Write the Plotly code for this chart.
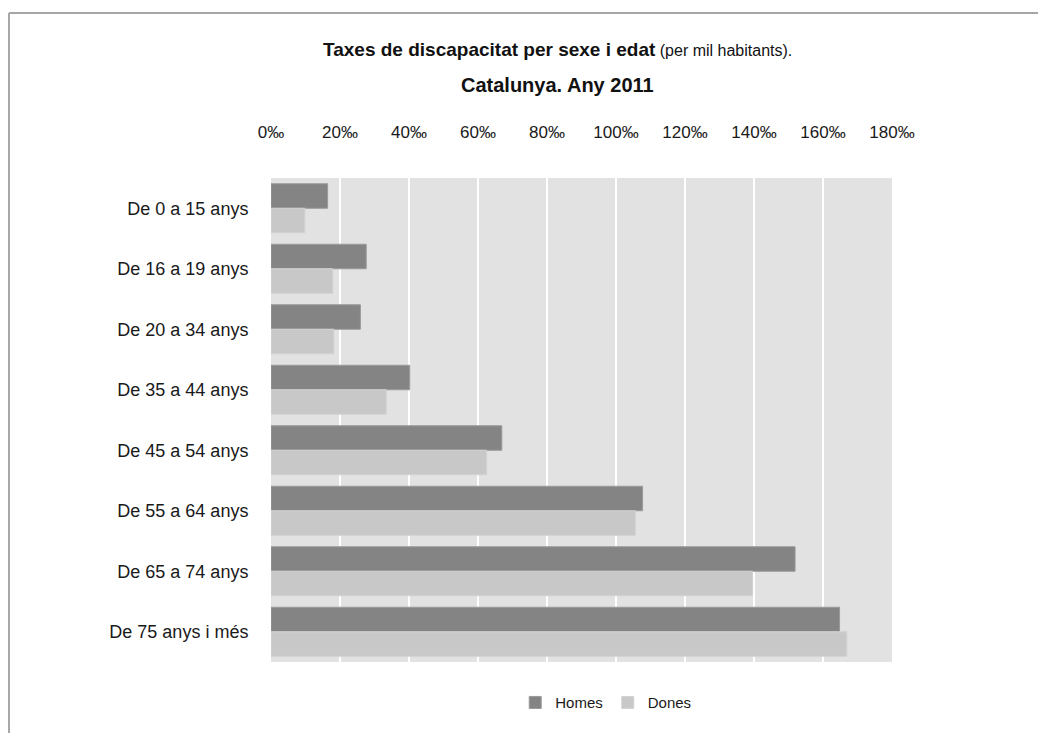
import plotly.graph_objects as go

# Data (rates per thousand inhabitants)
edats = [
    "De 0 a 15 anys",
    "De 16 a 19 anys",
    "De 20 a 34 anys",
    "De 35 a 44 anys",
    "De 45 a 54 anys",
    "De 55 a 64 anys",
    "De 65 a 74 anys",
    "De 75 anys i més",
]
homes = [16.4, 27.6, 25.9, 40.2, 66.9, 107.7, 151.9, 164.8]
dones = [9.8, 17.9, 18.2, 33.4, 62.5, 105.6, 139.6, 166.9]
x_ticks = [0, 20, 40, 60, 80, 100, 120, 140, 160, 180]
x_ticktext = [f"{v}‰" for v in x_ticks]

FONT = "Liberation Sans Narrow, Liberation Sans, Arial, sans-serif"

fig = go.Figure()

fig.add_trace(
    go.Bar(
        y=edats,
        x=homes,
        orientation="h",
        name="Homes",
        marker=dict(color="#848484", line=dict(color="#9a9a9a", width=1)),
    )
)
fig.add_trace(
    go.Bar(
        y=edats,
        x=dones,
        orientation="h",
        name="Dones",
        marker=dict(color="#c8c8c8", line=dict(color="#d2d2d2", width=1)),
    )
)

# Outer frame (top and left edges only, like the cropped original)
frame = dict(type="line", xref="paper", yref="paper",
             line=dict(color="#a6a6a6", width=2), layer="above")
shapes = [
    dict(frame, x0=-0.422, x1=1.3, y0=1.341, y1=1.341),
    dict(frame, x0=-0.422, x1=-0.422, y0=1.341, y1=-0.2),
]

# Two-line title, placed as annotations so the line spacing matches
annotations = [
    dict(
        text="<b>Taxes de discapacitat per sexe i edat</b>"
             "<span style='font-size:16px'> (per mil habitants).</span>",
        xref="paper", yref="paper", x=0.461, y=1.2645,
        xanchor="center", yanchor="middle", showarrow=False,
        font=dict(size=19, color="#111"),
    ),
    dict(
        text="<b>Catalunya. Any 2011</b>",
        xref="paper", yref="paper", x=0.461, y=1.192,
        xanchor="center", yanchor="middle", showarrow=False,
        font=dict(size=20, color="#111"),
    ),
]

fig.update_layout(
    width=1046,
    height=733,
    margin=dict(l=263, r=162, t=170, b=79),
    paper_bgcolor="white",
    plot_bgcolor="#e2e2e2",
    font=dict(family=FONT, size=17, color="#1a1a1a"),
    barmode="group",
    bargap=0.19,
    bargroupgap=0,
    xaxis=dict(
        side="top",
        range=[0, 180],
        tickvals=x_ticks,
        ticktext=x_ticktext,
        ticks="outside",
        ticklen=32,
        tickcolor="rgba(0,0,0,0)",
        showgrid=True,
        gridcolor="white",
        gridwidth=1.5,
        zeroline=False,
        showline=False,
        tickfont=dict(size=17, color="#1a1a1a"),
    ),
    yaxis=dict(
        autorange="reversed",
        showgrid=False,
        ticks="outside",
        ticklen=18,
        tickcolor="rgba(0,0,0,0)",
        tickfont=dict(size=18, color="#1a1a1a"),
    ),
    legend=dict(
        orientation="h",
        x=0.539,
        xanchor="center",
        y=-0.05,
        yanchor="top",
        font=dict(size=15),
        itemwidth=30,
    ),
    shapes=shapes,
    annotations=annotations,
)

fig.write_html("out.html")
